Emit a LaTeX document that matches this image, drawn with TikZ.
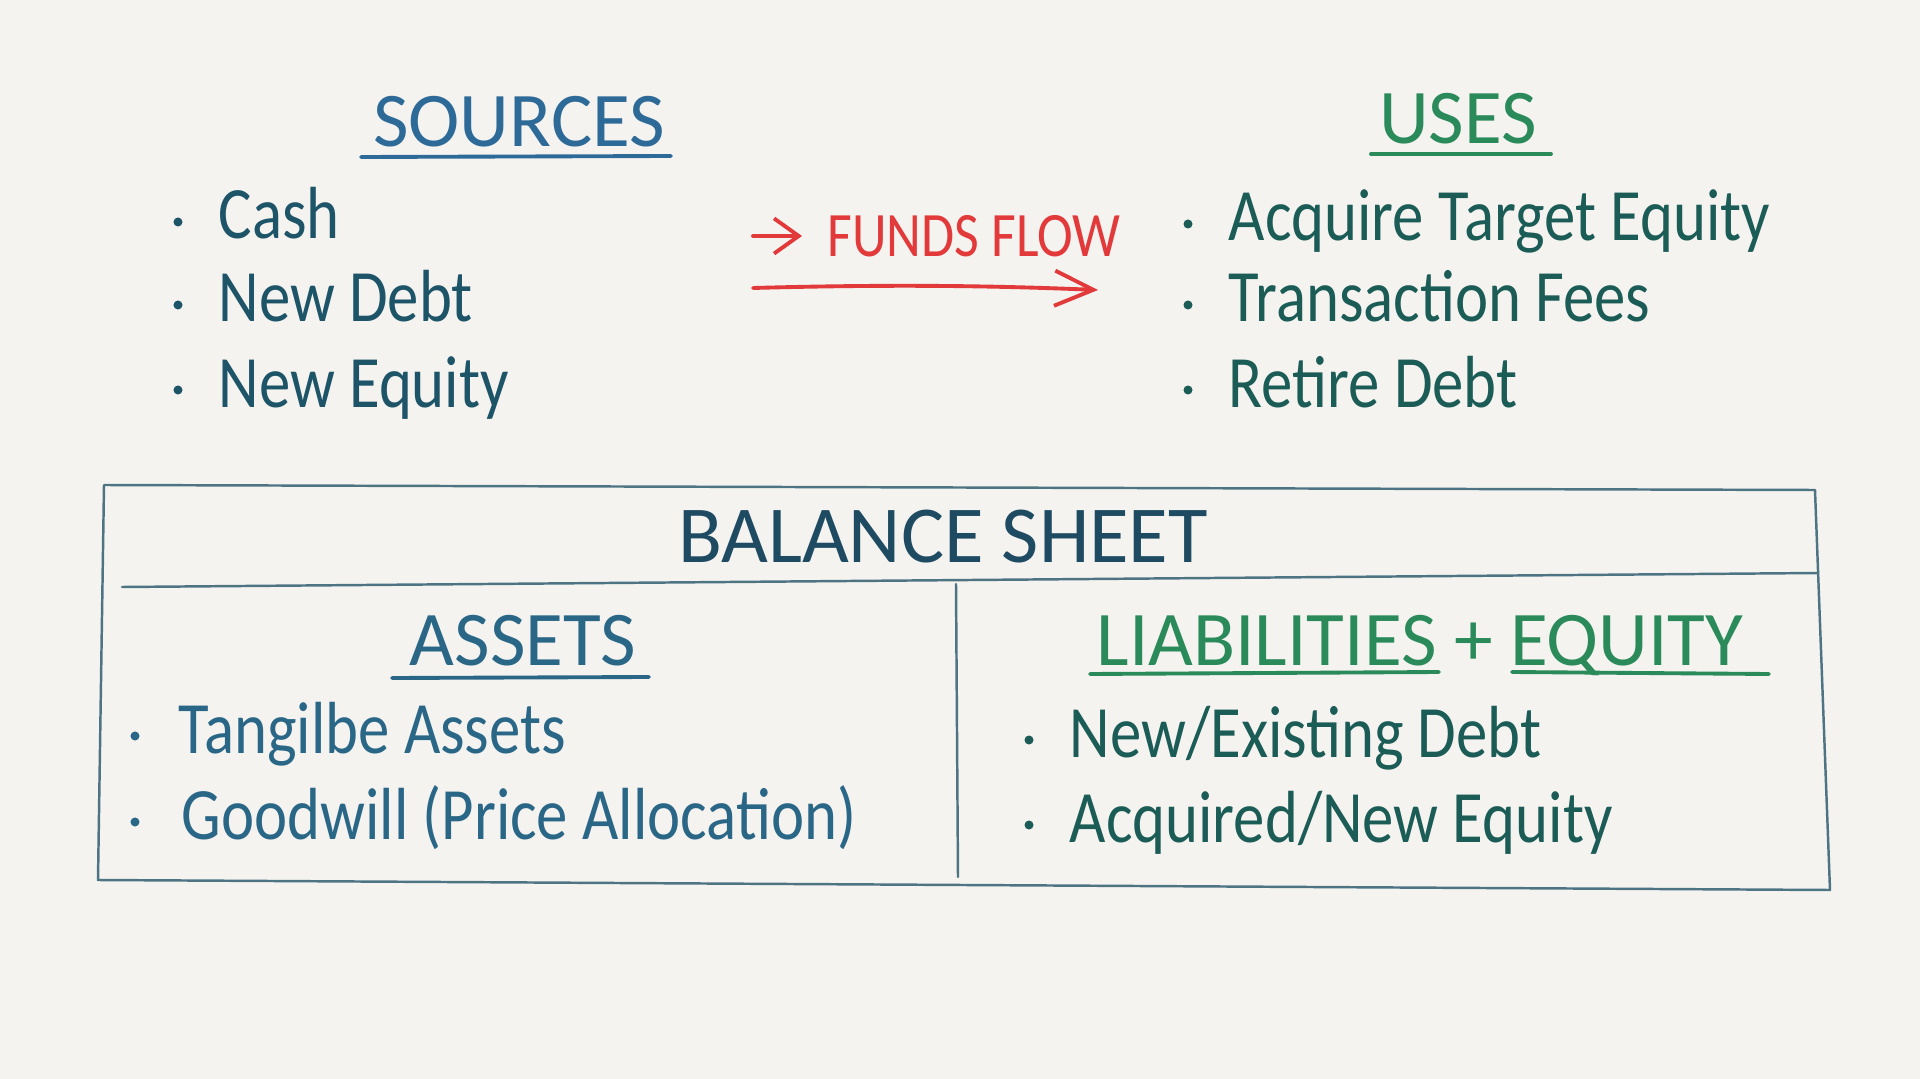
\documentclass[tikz,border=0pt]{standalone}
\usepackage{fontspec}
\setmainfont{Carlito}[FakeStretch=0.85]
\newfontfamily\capsfont{Carlito}
\usetikzlibrary{positioning,arrows.meta}

\definecolor{paper}{HTML}{F4F3F0}
\definecolor{srcblue}{HTML}{2D6A98}
\definecolor{srcink}{HTML}{1D5468}
\definecolor{usegreen}{HTML}{2A8A5A}
\definecolor{useink}{HTML}{1C5C56}
\definecolor{flowred}{HTML}{E23A3A}
\definecolor{sheetink}{HTML}{1E4B62}
\definecolor{assetblue}{HTML}{2A6787}
\definecolor{boxline}{HTML}{4E7484}

\tikzset{
  title/.style={anchor=base, inner sep=0pt, font=\capsfont\fontsize{22}{26}\selectfont},
  item/.style={anchor=base west, inner sep=0pt, font=\fontsize{21}{25}\selectfont},
  dot/.style={circle, fill, inner sep=0pt, minimum size=0.09cm},
  underline/.style={line width=1.1pt, line cap=round},
  sheetline/.style={boxline, line width=0.7pt, line cap=round, line join=round},
  flowarrow/.style={flowred, line width=1.1pt, line cap=round,
    -{Straight Barb[length=11pt,width=10pt,line width=1.1pt]}},
}

\begin{document}
\begin{tikzpicture}[x=0.01cm,y=-0.01cm]
    \fill[paper] (0,0) rectangle (1920,1079);% paper
    \useasboundingbox (0,0) rectangle (1920,1079);

    % sources
    \node[title, text=srcblue] (src) at (519,147) {SOURCES};
    \draw[underline, srcblue] (361,157) -- (671,156);
    \foreach \y/\t [count=\i] in {239/Cash, 322/New Debt, 407/New Equity}{
      \node[dot, srcink] (srcdot\i) at (178,\y-17) {};
      \node[item, text=srcink] (srcitem\i) at (218,\y) {\t};}

    % uses
    \node[title, text=usegreen] (uses) at (1458,144) {USES};
    \draw[underline, usegreen] (1371,154) -- (1551,154);
    \foreach \y/\t [count=\i] in {241/Acquire Target Equity, 322/Transaction Fees, 407/Retire Debt}{
      \node[dot, useink] (usedot\i) at (1188,\y-17) {};
      \node[item, text=useink] (useitem\i) at (1228,\y) {\t};}

    % funds flow
    \node[item, text=flowred, font=\fontsize{18}{22}\selectfont] (flow) at (827,257) {FUNDS FLOW};
    \coordinate (flowa) at (753,236);
    \coordinate (flowb) at (802,236);
    \draw[flowarrow, -{Straight Barb[length=7pt,width=10pt,line width=1.1pt]}] (flowa) -- (flowb);
    \coordinate (flowc) at (753,288);
    \coordinate (flowd) at (1098,290);
    \draw[flowarrow] (flowc) .. controls (900,284) and (1000,286) .. (flowd);

    % balance sheet box
    \draw[sheetline] (104,485) -- (1815,490) -- (1830,890) -- (98,880) -- cycle;
    \draw[sheetline] (122,587) -- (1818,573);% header line
    \draw[sheetline] (956,584) -- (958,877);% middle line
    \node[title, text=sheetink, font=\capsfont\fontsize{23}{27}\selectfont] (sheet) at (943,563) {BALANCE SHEET};

    % assets
    \node[title, text=assetblue] (assets) at (523,665) {ASSETS};
    \draw[underline, assetblue] (392,678) -- (649,677);
    \foreach \y/\x/\t [count=\i] in {753/178/Tangilbe Assets, 839/181/Goodwill (Price Allocation)}{
      \node[dot, assetblue] (assetdot\i) at (135,\y-17) {};
      \node[item, text=assetblue] (assetitem\i) at (\x,\y) {\t};}

    % liabilities + equity
    \node[title, text=usegreen] (liab) at (1420,665) {LIABILITIES + EQUITY};
    \draw[underline, usegreen] (1090,674) -- (1439,672);
    \draw[underline, usegreen] (1512,672) -- (1769,674);
    \foreach \y/\t [count=\i] in {757/{New/Existing Debt}, 842/{Acquired/New Equity}}{
      \node[dot, useink] (liabdot\i) at (1029,\y-17) {};
      \node[item, text=useink] (liabitem\i) at (1069,\y) {\t};}
\end{tikzpicture}
\end{document}
